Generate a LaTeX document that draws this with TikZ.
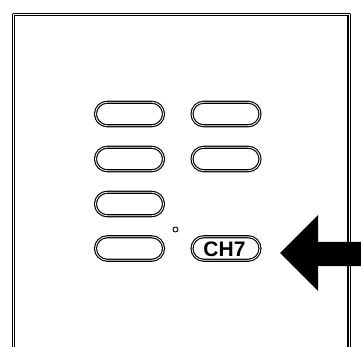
\documentclass[tikz,border=0pt]{standalone}
\usepackage{fontspec}
\setmainfont{Liberation Sans}
\usetikzlibrary{shapes.misc}
\tikzstyle{edge} = [line width=1.15pt,double=white,double distance=.8pt]
\tikzstyle{key} = [rounded rectangle, minimum width=68pt, minimum height=23.5pt, inner sep=0pt, outer sep=0pt, draw=black, edge]
\begin{document}
\begin{tikzpicture}[x=1pt,y=-1pt]
\useasboundingbox (0,0) rectangle (361,347);

\draw[edge,line join=round] (13.5,347)--(13.5,14.3)--(349,14.3)--(349,347);

\foreach \row/\y in {a/114,b/159,c/204,d/248.5}{
\node[key] (key\row1) at (129.5,\y) {};
}
\foreach \row/\y in {a/114,b/159}{
\node[key] (key\row2) at (226,\y) {};
}
\node[key] (keyd2) at (226,248.5) {};
\node[font=\fontsize{21}{21}\selectfont\bfseries,inner sep=0pt] (ch7) at (224.5,249) {CH7};

\node[circle,draw=black,line width=.9pt,minimum size=5pt,inner sep=0pt] (led) at (175.5,229.5) {};

\fill (280,253)--(318,215)--(318,242)--(361,242)--(361,266)--(318,266)--(318,291)--cycle;
\end{tikzpicture}
\end{document}
